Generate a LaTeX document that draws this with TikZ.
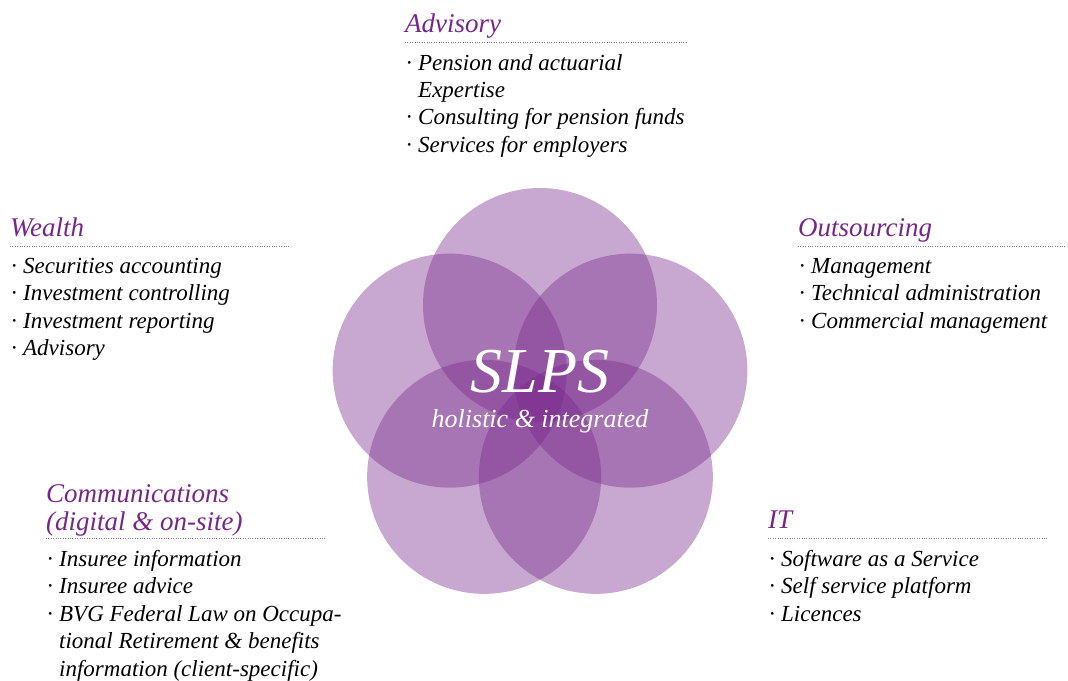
\documentclass[tikz,border=0pt]{standalone}
\usepackage{fontspec}
\setmainfont{Liberation Serif}
\definecolor{slpurple}{RGB}{118,38,138}
\newcommand{\headfont}{\fontsize{27}{28}\selectfont\itshape}
\newcommand{\itemfont}{\fontsize{23}{27.4}\selectfont\itshape}
\newcommand{\bul}{\makebox[13pt][l]{\hspace{1pt}·}}
\newcommand{\ind}{\hspace*{13pt}}
\tikzset{
  head/.style={anchor=base west,inner sep=0pt,text=slpurple,font=\headfont,align=left},
  items/.style={anchor=north west,inner sep=0pt,font=\itemfont,align=left},
  rule/.style={gray,line width=.8pt,dash pattern=on .8pt off 1.6pt},
  petal/.style={fill=slpurple,fill opacity=.4}
}

\begin{document}
\begin{tikzpicture}[x=1pt,y=-1pt]
\useasboundingbox (0,0) rectangle (1068,680);
% petals
\foreach \a in {270,198,126,54,342}
  \fill[petal] (540,400) ++(\a:95) circle (117);
\node[white,font=\fontsize{64}{66}\selectfont\itshape] (slps) at (540,372) {SLPS};
\node[white,font=\fontsize{26}{28}\selectfont\itshape] (claim) at (540,421) {holistic \& integrated};
% Advisory
\node[head] (advisory) at (405,32) {Advisory};
\draw[rule] (405,42) -- (686,42);
\node[items] (advlist) at (405,54) {\bul Pension and actuarial\\ \ind Expertise\\
  \bul Consulting for pension funds\\ \bul Services for employers};
% Wealth
\node[head] (wealth) at (10,236) {Wealth};
\draw[rule] (10,246) -- (290,246);
\node[items] (wealthlist) at (10,258) {\bul Securities accounting\\ \bul Investment controlling\\
  \bul Investment reporting\\ \bul Advisory};
% Outsourcing
\node[head] (outsourcing) at (798,236) {Outsourcing};
\draw[rule] (798,246) -- (1066,246);
\node[items] (outlist) at (798,258) {\bul Management\\ \bul Technical administration\\
  \bul Commercial management};
% Communications
\node[head,anchor=north west] (comm) at (46,484) {Communications\\(digital \& on-site)};
\draw[rule] (46,538) -- (326,538);
\node[items] (commlist) at (46,550) {\bul Insuree information\\ \bul Insuree advice\\
  \bul BVG Federal Law on Occupa-\\ \ind tional Retirement \& benefits\\
  \ind information (client-specific)};
% IT
\node[head] (it) at (768,528) {IT};
\draw[rule] (768,538) -- (1048,538);
\node[items] (itlist) at (768,550) {\bul Software as a Service\\ \bul Self service platform\\
  \bul Licences};
\end{tikzpicture}
\end{document}
